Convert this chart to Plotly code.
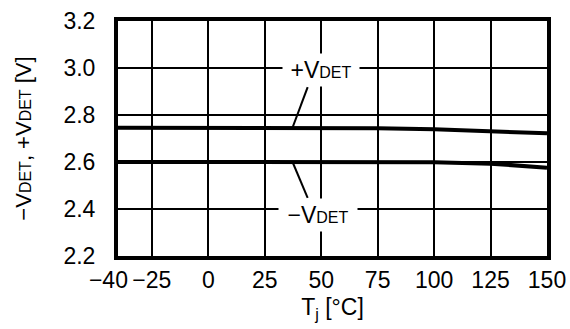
import plotly.graph_objects as go

# junction temperature [degC]
tj_plus = [-40, -25, 0, 25, 50, 65, 75, 100, 125, 150]
vdet_plus = [2.746, 2.746, 2.746, 2.746, 2.746, 2.746, 2.744, 2.739, 2.732, 2.722]

tj_minus = [-40, -25, 0, 25, 50, 75, 90, 100, 125, 150]
vdet_minus = [2.600, 2.600, 2.600, 2.600, 2.600, 2.600, 2.600, 2.599, 2.593, 2.576]

x_ticks = [-40, -25, 0, 25, 50, 75, 100, 125, 150]
x_ticktext = ["\u221240\u00a0\u00a0\u00a0", "\u221225", "0", "25", "50", "75", "100", "125", "150"]
y_ticks = [2.2, 2.4, 2.6, 2.8, 3.0, 3.2]
y_ticktext = ["2.2", "2.4", "2.6", "2.8", "3.0", "3.2"]

FONT = "Liberation Sans, Arial, sans-serif"
DET = "<span style='font-size:16px'>DET</span>"

fig = go.Figure()
fig.add_trace(go.Scatter(x=tj_plus, y=vdet_plus, mode="lines",
                         line=dict(color="black", width=4), showlegend=False))
fig.add_trace(go.Scatter(x=tj_minus, y=vdet_minus, mode="lines",
                         line=dict(color="black", width=4), showlegend=False))

# leader lines from labels to curves
fig.add_shape(type="line", x0=37.3, y0=2.746, x1=44.0, y1=2.919,
              line=dict(color="black", width=2))
fig.add_shape(type="line", x0=37.3, y0=2.600, x1=44.0, y1=2.447,
              line=dict(color="black", width=2))

fig.add_annotation(x=50.1, y=2.99, text="+V" + DET, showarrow=False,
                   bgcolor="white", borderpad=3, width=70,
                   font=dict(size=23, color="black", family=FONT))
fig.add_annotation(x=48.4, y=2.374, text="\u2212V" + DET, showarrow=False,
                   bgcolor="white", borderpad=3, width=72,
                   font=dict(size=23, color="black", family=FONT))

fig.update_xaxes(range=[-40, 150], tickvals=x_ticks, ticktext=x_ticktext,
                 tickangle=0, automargin=False, ticklabeloverflow="allow",
                 showgrid=True, gridcolor="black", gridwidth=2,
                 showline=True, linecolor="black", linewidth=4, mirror=True,
                 ticks="", zeroline=False,
                 tickfont=dict(size=23, color="black", family=FONT),
                 title=dict(text="T<sub>j</sub> [\u00b0C]", standoff=8,
                            font=dict(size=23, color="black", family=FONT)))
fig.update_yaxes(range=[2.2, 3.2], tickvals=y_ticks, ticktext=y_ticktext,
                 automargin=False,
                 showgrid=True, gridcolor="black", gridwidth=1.5,
                 showline=True, linecolor="black", linewidth=4, mirror=True,
                 ticks="", zeroline=False, ticklabelstandoff=14,
                 tickfont=dict(size=23, color="black", family=FONT),
                 title=dict(text="\u2212V" + DET + ", +V" + DET + " [V]", standoff=27,
                            font=dict(size=22, color="black", family=FONT)))

fig.update_layout(width=570, height=329, plot_bgcolor="white", paper_bgcolor="white",
                  margin=dict(l=118, r=23, t=21, b=73),
                  font=dict(family=FONT, color="black"))

# drop the default page margin so the figure fills the window
fig.write_html("out.html", config={"displayModeBar": False},
               post_script="document.body.style.margin='0';document.body.style.overflow='hidden';")
